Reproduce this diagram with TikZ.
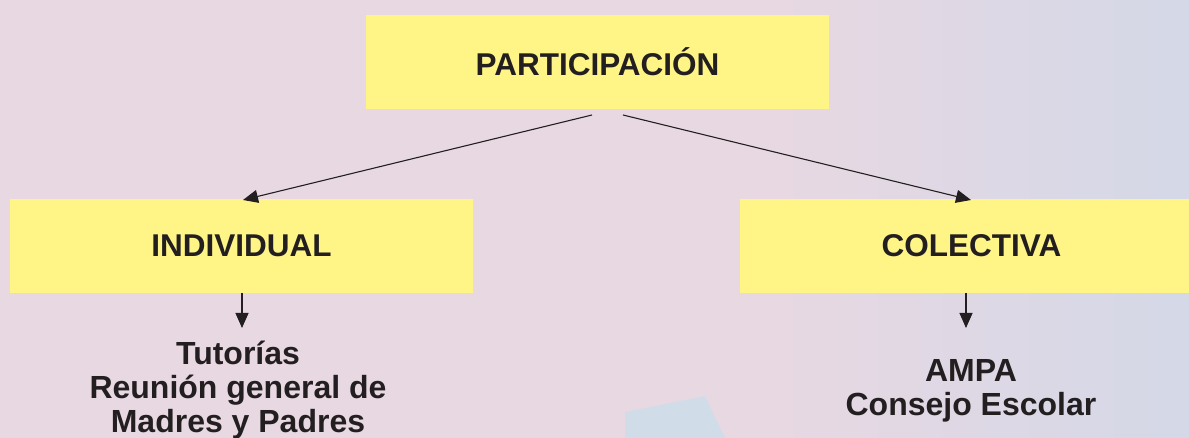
\documentclass[tikz,border=0pt]{standalone}
\usepackage{fontspec}
\setmainfont{Liberation Sans}
\usetikzlibrary{arrows.meta}
\definecolor{bgpink}{RGB}{232,216,226}
\definecolor{bgblue}{RGB}{212,216,231}
\definecolor{patchblue}{RGB}{196,224,236}
\definecolor{boxyellow}{RGB}{255,245,135}
\definecolor{ink}{RGB}{35,31,32}
\tikzset{
  box/.style={rectangle, fill=boxyellow, minimum width=463pt, minimum height=94pt,
    inner sep=0pt, text=ink, font=\bfseries\fontsize{31.5}{34}\selectfont},
  listtext/.style={align=center, inner sep=0pt, anchor=north, text=ink,
    font=\bfseries\fontsize{32}{34}\selectfont},
  conn/.style={draw=ink, line width=1.1pt, -{Triangle[length=15pt,width=13pt]}}
}
\begin{document}
\begin{tikzpicture}[x=1pt,y=-1pt]
\useasboundingbox (0,0) rectangle (1189,438);
\clip (0,0) rectangle (1189,438);
% background
\fill[bgpink] (0,0) rectangle (1189,438);
\shade[left color=bgpink, right color=bgblue] (760,0) rectangle (1189,438);
\fill[patchblue, opacity=0.65] (625,412) -- (705,396) -- (725,438) -- (625,438) -- cycle;
% boxes
\node[box] (part) at (597.5,62) {PARTICIPACIÓN};
\node[box] (ind) at (241.5,246) {INDIVIDUAL};
\node[box] (col) at (971.5,246) {COLECTIVA};
% list texts
\node[listtext] (indlist) at (238,341) {Tutorías\\Reunión general de\\Madres y Padres};
\node[listtext] (collist) at (971,359) {AMPA\\Consejo Escolar};
% connector anchors
\coordinate (pl) at (592,115);
\coordinate (pr) at (623,115);
\coordinate (indtip) at (243,200);
\coordinate (coltip) at (971,200);
\coordinate (indb) at (242,293);
\coordinate (colb) at (966,293);
\coordinate (indend) at (242,328);
\coordinate (colend) at (966,328);
\draw[conn] (pl) -- (indtip);
\draw[conn] (pr) -- (coltip);
\draw[conn] (indb) -- (indend);
\draw[conn] (colb) -- (colend);
\end{tikzpicture}
\end{document}
